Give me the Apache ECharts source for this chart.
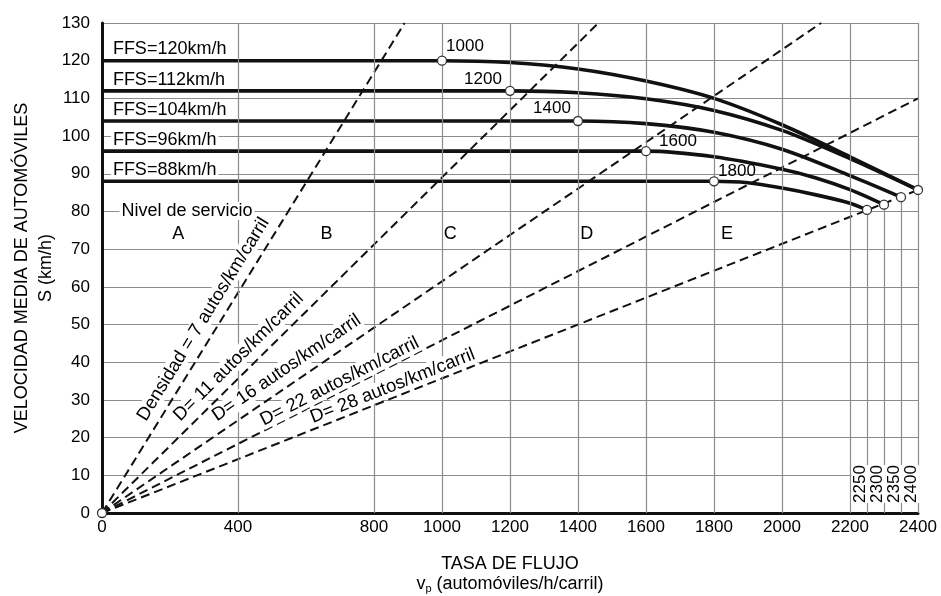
<!DOCTYPE html>
<html><head><meta charset="utf-8">
<script src="https://cdn.jsdelivr.net/npm/echarts@6/dist/echarts.min.js"></script>
<style>html,body{margin:0;padding:0;background:#fff}#c{width:941px;height:596px}</style>
</head><body><div id="c"></div>
<script>
// ---------------- data ----------------
const ffsValues = [120, 112, 104, 96, 88];
const breakpoints = [1000, 1200, 1400, 1600, 1800];
const curve120 = [[0,120],[1000,120],[1200,119.5],[1400,117.8],[1600,114.6],[1800,110.0],[2000,103.0],[2200,94.5],[2400,85.7]];
const curve112 = [[0,112],[1200,112],[1400,111.5],[1600,109.9],[1800,106.8],[2000,101.5],[2200,94.0],[2400,85.7]];
const curve104 = [[0,104],[1400,104],[1600,103.3],[1800,101.0],[2000,96.5],[2200,89.5],[2350,83.8]];
const curve96  = [[0,96],[1600,96],[1800,94.5],[2000,91.2],[2100,88.9],[2200,85.8],[2300,81.8]];
const curve88  = [[0,88],[1800,88],[1900,87.6],[2000,86.2],[2100,84.4],[2200,82.2],[2250,80.4]];
const capacityFlows  = [2250, 2300, 2350, 2400];
const capacitySpeeds = [80.4, 81.8, 83.8, 85.7];
const densities   = [7, 11, 16, 22, 28];
const densityEnds = [[890,130],[1460,130],[2115,130],[2400,110],[2400,85.7]];
const losLetters  = ['A','B','C','D','E'];
const xGridValues = [400, 800, 1000, 1200, 1400, 1600, 1800, 2000, 2200, 2400];
const xTickLabels = [0, 400, 800, 1000, 1200, 1400, 1600, 1800, 2000, 2200, 2400];

// ---------------- layout / style ----------------
const FONT = 'Liberation Sans, Arial, Helvetica, sans-serif';
const INK = '#000';
const GRID = '#8c8c8c';
const curves = [curve120, curve112, curve104, curve96, curve88];
const losPos = [[224,74],[660,74],[1024,74],[1426,74],[1838,74]];
const densityLabelPos = [[298,51.4],[402,41.4],[543,38.5],[699,34.9],[855,33.7]];
const bpLabelOffset = [[23,-14],[-27,-12],[-26,-12.5],[32,-10],[23,-10]];

const chart = echarts.init(document.getElementById('c'), null, {renderer:'canvas'});

const series = [];
// vertical gridlines & drop lines
series.push({
  type:'line', data:[], silent:true, z:1,
  markLine:{
    silent:true, animation:false, symbol:['none','none'], label:{show:false},
    lineStyle:{color:GRID, width:1.2, type:'solid'},
    data: xGridValues.map(v => ({xAxis:v})).concat(
      capacityFlows.slice(0,3).map((f,i) => [{coord:[f,0]},{coord:[f,capacitySpeeds[i]]}]))
  }
});
// density lines
densityEnds.forEach((e,i) => {
  series.push({type:'line', name:'D'+densities[i], data:[[0,0], e], symbol:'none', z:2,
    lineStyle:{color:'#111', width:2, type:[9,5]}});
});
// speed-flow curves
curves.forEach((c,i) => {
  series.push({type:'line', name:'FFS'+ffsValues[i], data:c, symbol:'none', smooth:0.3, z:3,
    lineStyle:{color:'#111', width:3.6}});
});
// markers
const markerData = [];
breakpoints.forEach((b,i) => markerData.push({value:[b, ffsValues[i]],
  label:{show:true, position:'inside', offset:bpLabelOffset[i], formatter:String(b),
    fontSize:17, color:INK, textBorderWidth:0, textShadowBlur:0, fontFamily:FONT}}));
capacityFlows.forEach((f,i) => markerData.push({value:[f, capacitySpeeds[i]]}));
markerData.push({value:[0,0]});
series.push({type:'scatter', data:markerData, symbol:'circle', symbolSize:9, z:5,
  itemStyle:{color:'#fff', borderColor:'#333', borderWidth:1.3, opacity:1}, label:{show:false}});

chart.setOption({
  animation:false,
  backgroundColor:'#fff',
  textStyle:{fontFamily:FONT},
  grid:{left:102, right:23, top:23, bottom:83, containLabel:false, outerBoundsMode:'none'},
  xAxis:{
    type:'value', min:0, max:2400, interval:200,
    axisLine:{lineStyle:{color:'#111', width:3}},
    axisTick:{show:false}, splitLine:{show:false},
    axisLabel:{formatter: v => xTickLabels.includes(v) ? String(v) : '', fontSize:17, color:INK, margin:6, fontFamily:FONT},
    name:'TASA DE FLUJO\n{v|v}{sub|p}{v| (automóviles/h/carril)}',
    nameLocation:'middle', nameGap:41,
    nameTextStyle:{fontSize:18, color:INK, lineHeight:20, fontFamily:FONT,
      rich:{v:{fontSize:18, color:INK, fontFamily:FONT, lineHeight:20},
            sub:{fontSize:11, color:INK, fontFamily:FONT, verticalAlign:'bottom', lineHeight:20, padding:[8,0,0,0]}}}
  },
  yAxis:{
    type:'value', min:0, max:130, interval:10,
    axisLine:{show:true, lineStyle:{color:'#111', width:3}},
    axisTick:{show:false},
    splitLine:{lineStyle:{color:GRID, width:1.2}},
    axisLabel:{fontSize:17, color:INK, margin:12, fontFamily:FONT},
    name:'VELOCIDAD MEDIA DE AUTOMÓVILES\nS (km/h)',
    nameLocation:'middle', nameRotate:90, nameGap:44, nameMoveOverlap:false,
    nameTextStyle:{fontSize:18, color:INK, lineHeight:24, fontFamily:FONT}
  },
  series: series
});

const px = p => chart.convertToPixel({xAxisIndex:0, yAxisIndex:0}, p);
const g = [];
// FFS labels
ffsValues.forEach(f => {
  const p = px([32, f + 3]);
  g.push({type:'text', x:p[0]-2, y:p[1], z:50,
    style:{text:'FFS='+f+'km/h', font:'18px '+FONT, fill:INK, align:'left', verticalAlign:'middle',
      backgroundColor:'#fff', padding:[0,2]}});
});
// Nivel de servicio
{
  const p = px([250, 80.1]);
  g.push({type:'text', x:p[0], y:p[1], z:50,
    style:{text:'Nivel de servicio', font:'18px '+FONT, fill:INK, align:'center', verticalAlign:'middle',
      backgroundColor:'#fff', padding:[0,2]}});
}
losLetters.forEach((L,i) => {
  const p = px(losPos[i]);
  g.push({type:'text', x:p[0], y:p[1], z:50,
    style:{text:L, font:'18px '+FONT, fill:INK, align:'center', verticalAlign:'middle'}});
});
// density labels
densities.forEach((d,i) => {
  const p0 = px([0,0]), p1 = px(densityEnds[i]);
  const ang = Math.atan2(p0[1]-p1[1], p1[0]-p0[0]);
  const c = px(densityLabelPos[i]);
  const txt = (i === 0 ? 'Densidad = ' : 'D= ') + d + ' autos/km/carril';
  g.push({type:'text', x:c[0], y:c[1], rotation:ang, z:50,
    style:{text:txt, font:'18.5px '+FONT, fill:INK, align:'center', verticalAlign:'middle',
      backgroundColor:'#fff', padding:[0,1]}});
});
// capacity labels
capacityFlows.forEach(f => {
  const p = px([f, 0]);
  g.push({type:'text', x:p[0]-7, y:p[1]-29, rotation:Math.PI/2, z:50,
    style:{text:String(f), font:'17px '+FONT, fill:INK, align:'center', verticalAlign:'middle',
      backgroundColor:'#fff', padding:[0,0]}});
});
chart.setOption({graphic:{elements:g}});
</script>
</body></html>
